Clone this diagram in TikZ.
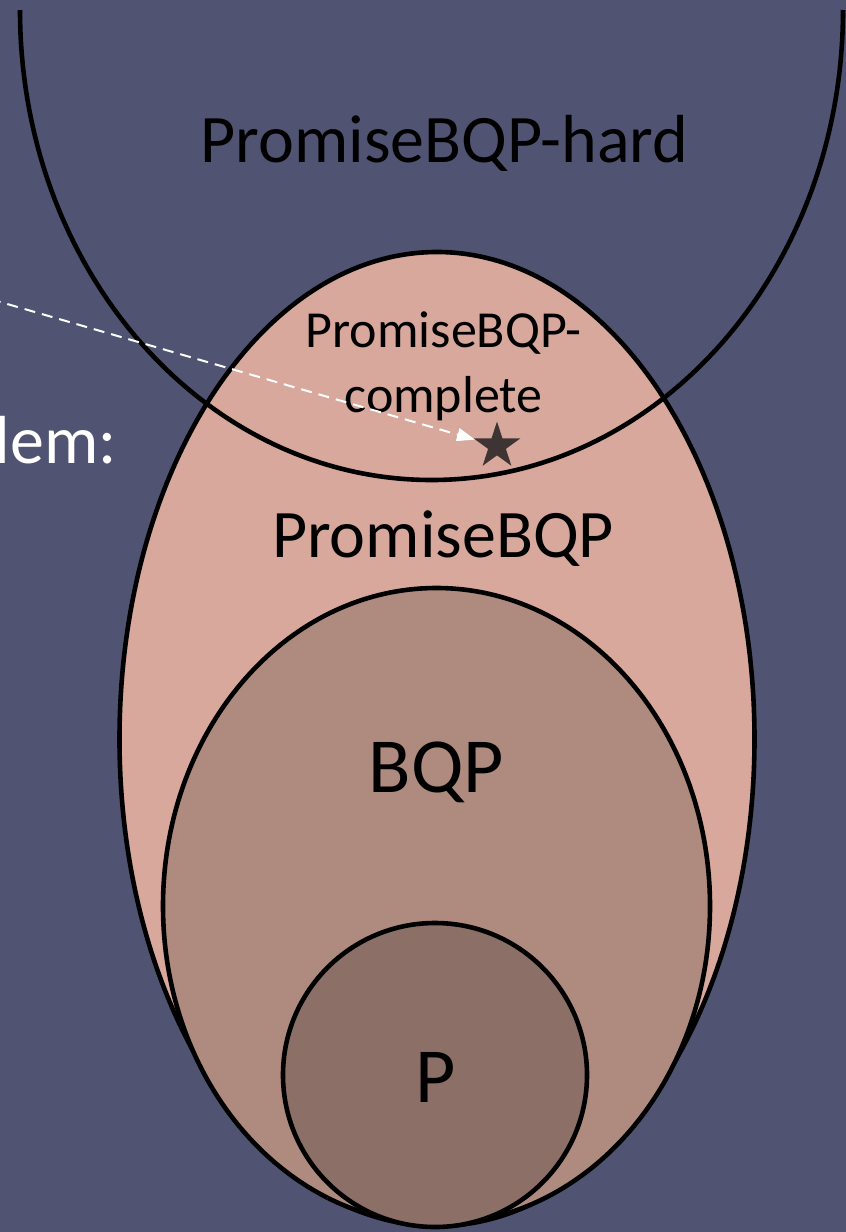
\documentclass[tikz,border=0pt]{standalone}
\usepackage{fontspec}
\setmainfont{Carlito}
\usetikzlibrary{shapes.geometric,arrows.meta}
\definecolor{bgcol}{HTML}{505472}
\definecolor{pbqpcol}{HTML}{D8A89C}
\definecolor{bqpcol}{HTML}{AE8A7F}
\definecolor{pcol}{HTML}{8C6F67}
\definecolor{starcol}{HTML}{3F3434}
\tikzset{
  setline/.style={draw=black, line width=4.6pt},
  biglabel/.style={anchor=base, inner sep=0pt, text=black, font=\fontsize{68}{80}\selectfont},
  hugelabel/.style={anchor=base, inner sep=0pt, text=black, font=\fontsize{78}{90}\selectfont},
  midlabel/.style={anchor=base, inner sep=0pt, text=black, font=\fontsize{52}{62}\selectfont},
  pointer/.style={draw=white, line width=2pt, dash pattern=on 11pt off 7pt, -{Triangle[length=18pt,width=13pt]}}
}
\begin{document}
\begin{tikzpicture}[x=1pt,y=1pt]
\useasboundingbox (0,0) rectangle (846,-1232);
\clip (0,0) rectangle (846,-1232);
\fill[bgcol] (0,0) rectangle (846,-1232);
% PromiseBQP
\path[setline, fill=pbqpcol] (437,-739) ellipse [x radius=317.5, y radius=487];
% BQP
\path[setline, fill=bqpcol] (436.5,-906) ellipse [x radius=273.5, y radius=318];
% P
\path[setline, fill=pcol] (435,-1075) circle [radius=152];
% PromiseBQP-hard
\draw[line width=4.6pt] (20,-10) arc [start angle=180, end angle=360, x radius=411.5, y radius=470];
% labels
\node[biglabel] (hardlbl) at (444.5,-162) {PromiseBQP-hard};
\node[midlabel] (complbl1) at (443.5,-347) {PromiseBQP-};
\node[midlabel] (complbl2) at (443.5,-412) {complete};
\node[biglabel] (pbqplbl) at (443,-557) {PromiseBQP};
\node[hugelabel] (bqplbl) at (436.5,-792) {BQP};
\node[hugelabel] (plbl) at (436,-1102) {P};
\node[anchor=base east, inner sep=0pt, text=white, font=\fontsize{68}{80}\selectfont] (lemlbl) at (117,-463) {lem:};
% star
\node[star, star points=5, star point ratio=2.62, minimum size=49pt, inner sep=0pt, fill=starcol] (star) at (497,-446) {};
\coordinate (src) at (-10,-299);
\draw[pointer] (src) -- (star);
\end{tikzpicture}
\end{document}
